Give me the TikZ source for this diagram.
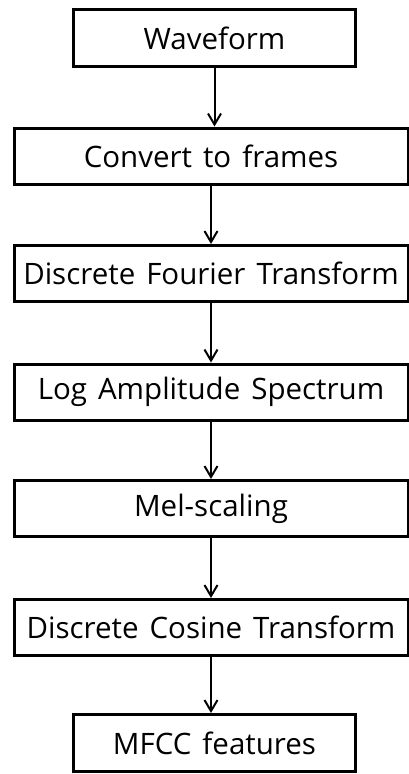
\documentclass[tikz,border=0pt]{standalone}
\usepackage{fontspec}
\setmainfont{Open Sans}
\usetikzlibrary{arrows.meta, positioning}
\newcommand\stagefont{\fontsize{29.5}{35}\selectfont\spaceskip=11pt plus 1pt minus 1pt\relax}

\begin{document}
\begin{tikzpicture}[
    x=1pt, y=-1pt,
    box/.style={draw, line width=3pt, minimum width=282pt, minimum height=57pt, inner sep=0pt},
    widebox/.style={box, minimum width=394pt, minimum height=56pt},
    arr/.style={line width=2pt, -{Straight Barb[length=11pt, width=13pt, line width=2pt]}},
    font=\stagefont
  ]
    \useasboundingbox (0,0) rectangle (409,774);
    \node[box] (wave) at (214.5,38) {Waveform};
    \node[widebox] (frames) at (211,156) {Convert to frames};
    \node[widebox] (dft) at (211,273.5) {Discrete Fourier Transform};
    \node[widebox] (logspec) at (211,392) {Log Amplitude Spectrum};
    \node[widebox] (mel) at (211,508.5) {Mel-scaling};
    \node[widebox] (dct) at (211,627.5) {Discrete Cosine Transform};
    \node[box] (mfcc) at (214.5,743) {MFCC features};
    \draw[arr] (wave.south) -- (wave.south |- frames.north);
    \draw[arr] (frames) -- (dft);
    \draw[arr] (dft) -- (logspec);
    \draw[arr] (logspec) -- (mel);
    \draw[arr] (mel) -- (dct);
    \draw[arr] (dct.south |- mfcc.north) ++(0,-56) -- (dct.south |- mfcc.north);
  \end{tikzpicture}
\end{document}
